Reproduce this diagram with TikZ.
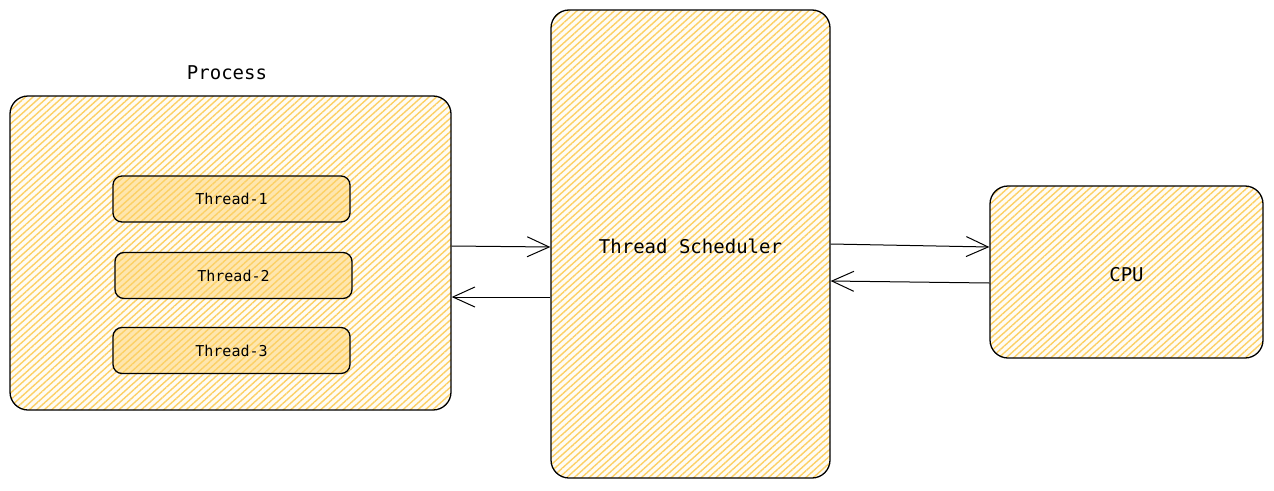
\documentclass[tikz,border=0pt]{standalone}
\usepackage{fontspec}
\setmonofont{DejaVu Sans Mono}
\usetikzlibrary{arrows.meta,patterns.meta}
\definecolor{hatch}{HTML}{FCC84A}
\tikzstyle{box}=[draw=black, line width=1.3pt, rounded corners=18pt,
  preaction={fill=hatch!6}, pattern={Lines[angle=42,distance=5pt,line width=1.4pt]},
  pattern color=hatch!85, font=\ttfamily\fontsize{19}{22}\selectfont]
\tikzstyle{thr}=[box, rounded corners=9pt, preaction={fill=hatch!45},
  minimum width=237pt, minimum height=46pt, font=\ttfamily\fontsize{15}{18}\selectfont]
\tikzstyle{arr}=[line width=1pt, -{Straight Barb[length=22pt,width=20pt,line width=1pt]}]

\begin{document}
\begin{tikzpicture}[x=1pt, y=-1pt]
		\useasboundingbox (0,0) rectangle (1274,490);

		\node [box, minimum width=441pt, minimum height=314pt] (p) at (230.5, 253) {};
		\node [thr] (t1) at (231.5, 199) {Thread-1};
		\node [thr] (t2) at (233.5, 275.5) {Thread-2};
		\node [thr] (t3) at (231.5, 350.5) {Thread-3};
		\node [font=\ttfamily\fontsize{19}{22}\selectfont] (pl) at (227, 73) {Process};

		\node [box, minimum width=279pt, minimum height=468pt] (s) at (690.5, 244) {};
		\node [font=\ttfamily\fontsize{19}{22}\selectfont] (sl) at (690.5, 246) {Thread Scheduler};

		\node [box, minimum width=273pt, minimum height=172pt] (c) at (1126.5, 272) {};
		\node [font=\ttfamily\fontsize{19}{22}\selectfont] (cl) at (1126.5, 275) {CPU};

		\draw [arr] (p.east |- 0,246) to (s.west |- 0,247);
		\draw [arr] (s.west |- 0,297) to (p.east |- 0,297);
		\draw [arr] (s.east |- 0,244) to (c.west |- 0,247);
		\draw [arr] (c.west |- 0,283) to (s.east |- 0,281);
	\end{tikzpicture}
\end{document}
